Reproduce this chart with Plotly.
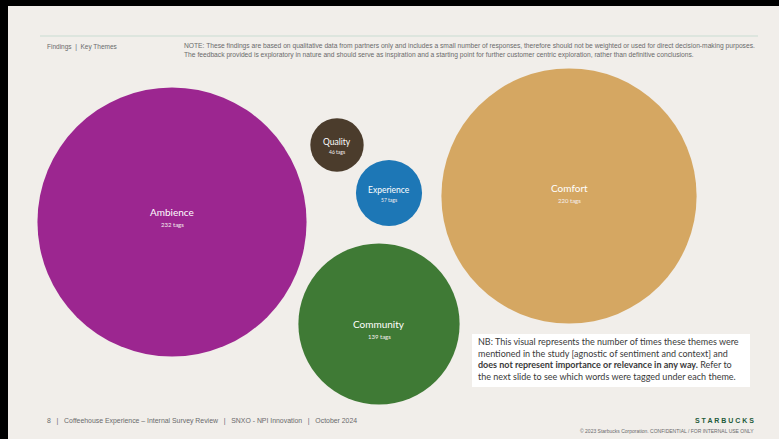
import plotly.graph_objects as go

# ---- data ----
themes = ["Ambience", "Quality", "Experience", "Community", "Comfort"]
tag_counts = [232, 46, 57, 139, 220]

# ---- layout (positions / styles) ----
centers_x = [172, 337, 389, 379, 569]
centers_y = [222, 145, 193, 324, 196]
label_dy = [-10, -3, -3, 0, -8]
colors = ["#9C2690", "#4B3C2C", "#1D77B6", "#3F7A35", "#D5A762"]
px_per_tag = 1.16  # diameter in px per tag

W, H = 779, 439
BG = "#F1EEEA"

fig = go.Figure()

fig.add_trace(go.Scatter(
    x=centers_x, y=centers_y, mode="markers",
    marker=dict(size=[v * px_per_tag for v in tag_counts], sizemode="diameter",
                color=colors, opacity=1, line=dict(width=0)),
    hoverinfo="skip", showlegend=False,
))

annotations = []
for name, val, cx, cy, dy in zip(themes, tag_counts, centers_x, centers_y, label_dy):
    big = val > 100
    annotations.append(dict(x=cx, y=cy + dy, text=name, showarrow=False,
                            xanchor="center", yanchor="middle",
                            font=dict(family="Lato", size=10 if big else 8.5, color="white")))
    annotations.append(dict(x=cx, y=cy + dy + (12 if big else 10), text=f"{val} tags", showarrow=False,
                            xanchor="center", yanchor="middle",
                            font=dict(family="Lato", size=6 if big else 5, color="#F5EFEF")))

grey = "#6A6A6A"
narrow = "Liberation Sans Narrow, Liberation Sans"
annotations += [
    dict(x=45, y=47, text="Findings  |  Key Themes", showarrow=False, xanchor="left", yanchor="middle",
         font=dict(family=narrow, size=6.5, color=grey)),
    dict(x=182, y=46, text="NOTE: These findings are based on qualitative data from partners only and includes a small number of responses, therefore should not be weighted or used for direct decision-making purposes.",
         showarrow=False, xanchor="left", yanchor="middle",
         font=dict(family=narrow, size=6.7, color=grey)),
    dict(x=182, y=55, text="The feedback provided is exploratory in nature and should serve as inspiration and a starting point for further customer centric exploration, rather than definitive conclusions.",
         showarrow=False, xanchor="left", yanchor="middle",
         font=dict(family=narrow, size=6.7, color=grey)),
    dict(x=476, y=359, text=("NB: This visual represents the number of times these themes were<br>"
                             "mentioned in the study [agnostic of sentiment and context] and<br>"
                             "<b>does not represent importance or relevance in any way.</b> Refer to<br>"
                             "the next slide to see which words were tagged under each theme."),
         showarrow=False, xanchor="left", yanchor="middle", align="left",
         font=dict(family="Lato", size=9, color="#3A3A3A")),
    dict(x=45, y=421, text="8   |   Coffeehouse Experience – Internal Survey Review   |   SNXO - NPI Innovation   |   October 2024",
         showarrow=False, xanchor="left", yanchor="middle",
         font=dict(family=narrow, size=6.9, color=grey)),
    dict(x=756, y=420, text="<b>S T A R B U C K S</b>", showarrow=False, xanchor="right", yanchor="middle",
         font=dict(family="Liberation Sans Narrow, Liberation Sans", size=7, color="#1E5B3A")),
    dict(x=756, y=431, text="© 2023 Starbucks Corporation. CONFIDENTIAL / FOR INTERNAL USE ONLY",
         showarrow=False, xanchor="right", yanchor="middle",
         font=dict(family=narrow, size=5, color=grey)),
]

shapes = [
    dict(type="rect", xref="x", yref="y", x0=8, y0=6, x1=W, y1=H, fillcolor=BG,
         line=dict(width=0), layer="below"),
    dict(type="line", xref="x", yref="y", x0=40, y0=36, x1=758, y1=36,
         line=dict(color="#C9DCD1", width=1.2), layer="below"),
    dict(type="rect", xref="x", yref="y", x0=472, y0=334, x1=750, y1=387, fillcolor="#FFFFFF",
         line=dict(width=0), layer="above"),
]

fig.update_layout(
    width=W, height=H, margin=dict(l=0, r=0, t=0, b=0),
    paper_bgcolor="#000000", plot_bgcolor="#000000",
    xaxis=dict(range=[0, W], visible=False, fixedrange=True),
    yaxis=dict(range=[H, 0], visible=False, fixedrange=True),
    shapes=shapes, annotations=annotations, showlegend=False,
)

fig.write_html("out.html")
